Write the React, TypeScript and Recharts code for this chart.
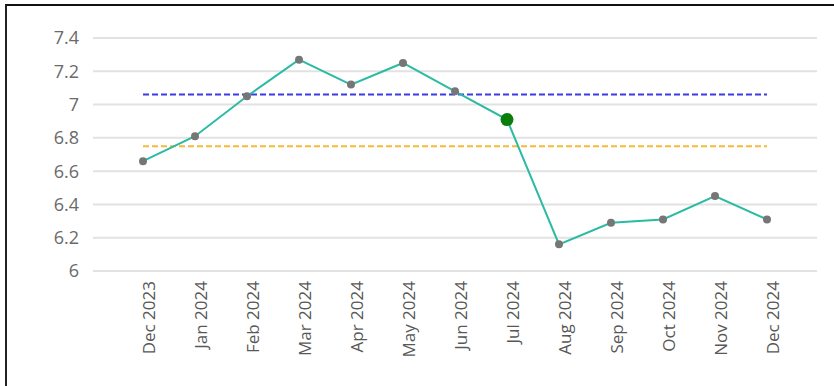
import { LineChart, Line, XAxis, YAxis, CartesianGrid, ReferenceLine } from 'recharts'

const months = [
  'Dec 2023', 'Jan 2024', 'Feb 2024', 'Mar 2024', 'Apr 2024', 'May 2024', 'Jun 2024',
  'Jul 2024', 'Aug 2024', 'Sep 2024', 'Oct 2024', 'Nov 2024', 'Dec 2024',
]
const values = [6.66, 6.81, 7.05, 7.27, 7.12, 7.25, 7.08, 6.91, 6.16, 6.29, 6.31, 6.45, 6.31]
const yTicks = [6, 6.2, 6.4, 6.6, 6.8, 7, 7.2, 7.4]
const upperLevel = 7.06
const averageLevel = 6.75
const highlightMonth = 'Jul 2024'

const data = months.map((month, i) => ({ month, value: values[i] }))

const FONT = '"Open Sans", "Noto Sans", sans-serif'

function Dot(props: any) {
  const { cx, cy, payload, index } = props
  if (cx == null || cy == null) return null
  if (payload.month === highlightMonth) {
    return <circle key={index} cx={cx} cy={cy} r={6.5} fill="#0a7d0a" />
  }
  return <circle key={index} cx={cx} cy={cy} r={4} fill="#767676" />
}

export default function App() {
  return (
    <div style={{ position: 'absolute', left: 0, top: 0, width: 834, height: 386, background: '#fff' }}>
      <div
        style={{
          position: 'absolute',
          left: 5,
          top: 4,
          right: 0,
          bottom: 0,
          borderTop: '2px solid #111',
          borderLeft: '2px solid #222',
        }}
      />
      <LineChart
        width={834}
        height={386}
        data={data}
        margin={{ top: 38, right: 17, bottom: 0, left: 0 }}
        style={{ position: 'absolute', left: 0, top: 0, fontFamily: FONT }}
      >
        <CartesianGrid vertical={false} stroke="#e2e2e2" strokeWidth={2} />
        <XAxis
          dataKey="month"
          height={115}
          padding={{ left: 50, right: 50 }}
          axisLine={false}
          tickLine={false}
          interval={0}
          angle={-90}
          textAnchor="end"
          tickMargin={4}
          tick={{ fill: '#585858', fontSize: 17, fontFamily: FONT }}
        />
        <YAxis
          domain={[6, 7.4]}
          ticks={yTicks}
          width={93}
          axisLine={false}
          tickLine={false}
          tickMargin={8}
          tick={{ fill: '#6a6a6a', fontSize: 18, fontFamily: FONT }}
        />
        <ReferenceLine
          segment={[{ x: months[0], y: upperLevel }, { x: months[months.length - 1], y: upperLevel }]}
          stroke="#3b3be3"
          strokeWidth={2}
          strokeDasharray="6 3"
        />
        <ReferenceLine
          segment={[{ x: months[0], y: averageLevel }, { x: months[months.length - 1], y: averageLevel }]}
          stroke="#f6b93b"
          strokeWidth={2}
          strokeDasharray="6 3"
        />
        <Line
          type="linear"
          dataKey="value"
          stroke="#2bbba4"
          strokeWidth={2}
          dot={Dot}
          activeDot={false}
          isAnimationActive={false}
        />
      </LineChart>
    </div>
  )
}
